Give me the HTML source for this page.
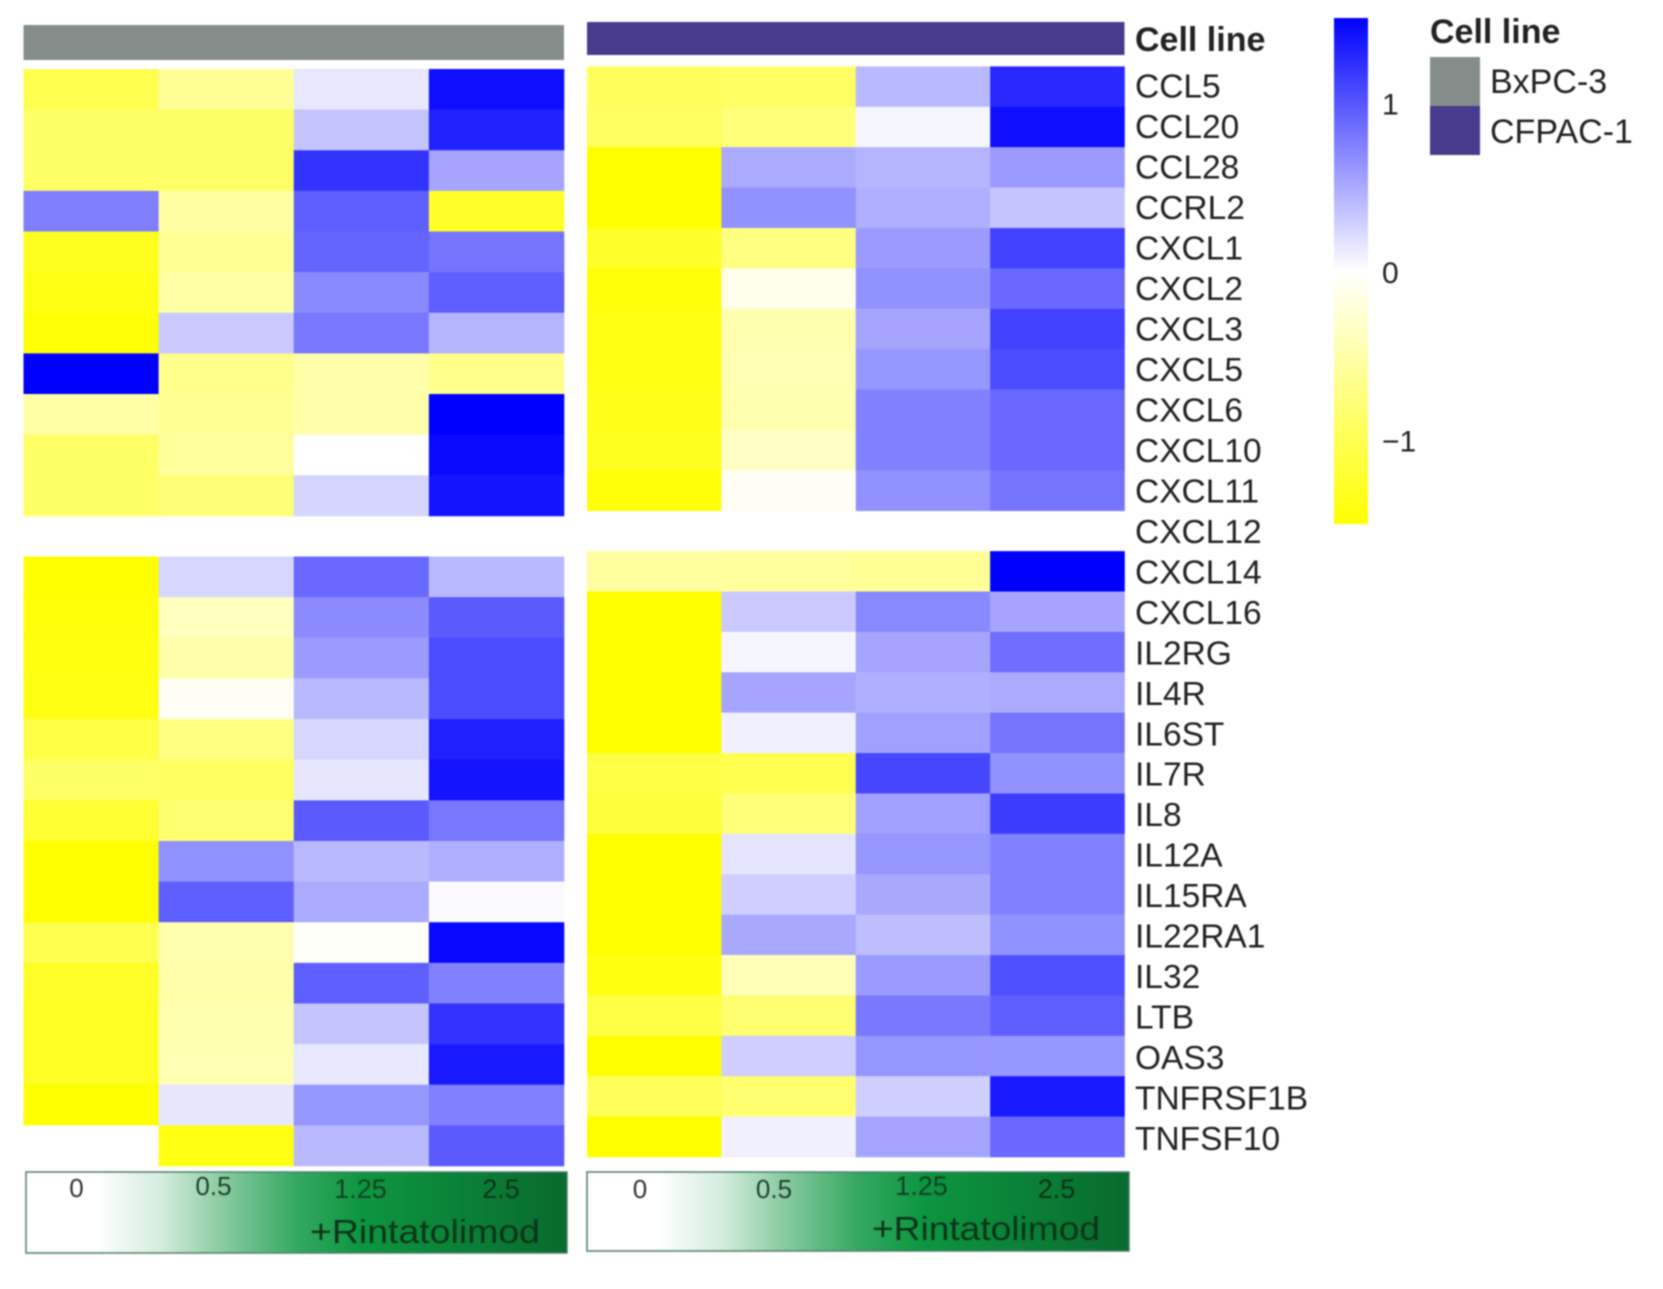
<!DOCTYPE html>
<html lang="en">
<head>
<meta charset="utf-8">
<title>Cytokine expression heatmap</title>
<style>
  html, body { margin: 0; padding: 0; background: #fff; }
  body { width: 1663px; height: 1289px; overflow: hidden; }
  svg { display: block; filter: blur(0.8px); font-family: "Liberation Sans", sans-serif; }
</style>
</head>
<body>
<svg id="chart" xmlns="http://www.w3.org/2000/svg" width="1663" height="1289" viewBox="0 0 1663 1289">
  <defs>
    <linearGradient id="dose-gradient" x1="0" y1="0" x2="1" y2="0">
      <stop offset="0.13" stop-color="#ffffff"/>
      <stop offset="0.25" stop-color="#d4ecdd"/>
      <stop offset="0.35" stop-color="#90cfa6"/>
      <stop offset="0.5" stop-color="#35a862"/>
      <stop offset="0.62" stop-color="#0c9640"/>
      <stop offset="1" stop-color="#086a2e"/>
    </linearGradient>
    <linearGradient id="colorbar-gradient" x1="0" y1="1" x2="0" y2="0">
      <stop offset="0" stop-color="#ffff00"/>
      <stop offset="0.5" stop-color="#ffffff"/>
      <stop offset="1" stop-color="#0000ff"/>
    </linearGradient>
  </defs>

  <rect x="23.5" y="25" width="540.5" height="35" fill="#858d8b"/>
  <rect x="587" y="22" width="537.5" height="33" fill="#483a8d"/>
  <text x="1135" y="51" font-size="34" font-weight="bold" fill="#222">Cell line</text>

  <g id="left-cells"></g>
  <g id="right-cells"></g>
  <g id="gene-labels"></g>

  <g>
    <rect x="26" y="1172" width="541" height="81" fill="url(#dose-gradient)" stroke="#4f7f68" stroke-width="1.5"/>
    <text x="76.5" y="1197" font-size="26" text-anchor="middle" fill="#333">0</text>
    <text x="213.5" y="1195" font-size="26" text-anchor="middle" fill="#24402f">0.5</text>
    <text x="360.5" y="1198" font-size="27" text-anchor="middle" fill="#143f24">1.25</text>
    <text x="501" y="1198" font-size="27" text-anchor="middle" fill="#0e3219">2.5</text>
    <text x="310" y="1243" font-size="33" textLength="230" lengthAdjust="spacingAndGlyphs" fill="#0a3519">+Rintatolimod</text>
  </g>
  <g>
    <rect x="587" y="1172" width="542" height="79" fill="url(#dose-gradient)" stroke="#4f7f68" stroke-width="1.5"/>
    <text x="640" y="1198" font-size="26" text-anchor="middle" fill="#333">0</text>
    <text x="774" y="1198" font-size="26" text-anchor="middle" fill="#24402f">0.5</text>
    <text x="921.5" y="1195" font-size="27" text-anchor="middle" fill="#143f24">1.25</text>
    <text x="1056.5" y="1198" font-size="27" text-anchor="middle" fill="#0e3219">2.5</text>
    <text x="872" y="1240" font-size="33" textLength="228" lengthAdjust="spacingAndGlyphs" fill="#0a3519">+Rintatolimod</text>
  </g>

  <g>
    <rect x="1334" y="18" width="34" height="506" fill="url(#colorbar-gradient)"/>
    <g id="scale-ticks"></g>
  </g>

  <g>
    <text x="1430" y="43" font-size="34" font-weight="bold" fill="#222">Cell line</text>
    <rect x="1430" y="57" width="50" height="49" fill="#858d8b"/>
    <rect x="1430" y="106" width="50" height="49" fill="#483a8d"/>
    <text x="1490" y="93" font-size="34" fill="#222">BxPC-3</text>
    <text x="1490" y="143" font-size="34" fill="#222">CFPAC-1</text>
  </g>
</svg>

<script>
const genes = ["CCL5","CCL20","CCL28","CCRL2","CXCL1","CXCL2","CXCL3","CXCL5","CXCL6","CXCL10","CXCL11","CXCL12","CXCL14","CXCL16","IL2RG","IL4R","IL6ST","IL7R","IL8","IL12A","IL15RA","IL22RA1","IL32","LTB","OAS3","TNFRSF1B","TNFSF10"];
const doses = ["0","0.5","1.25","2.5"];
const scaleTicks = [1, 0, -1];
const scaleTickLabels = ["1", "0", "\u22121"];
const bxpc3Values = [
  [-1.03,-0.62,0.14,1.41],
  [-0.90,-0.90,0.35,1.30],
  [-0.90,-0.90,1.20,0.53],
  [0.76,-0.55,0.94,-1.27],
  [-1.32,-0.62,0.91,0.82],
  [-1.38,-0.53,0.70,0.94],
  [-1.47,0.32,0.80,0.44],
  [1.50,-0.68,-0.50,-0.68],
  [-0.53,-0.62,-0.50,1.50],
  [-0.90,-0.59,0.00,1.44],
  [-0.90,-0.80,0.25,1.38],
  [null,null,null,null],
  [-1.50,0.24,0.88,0.41],
  [-1.44,-0.38,0.68,0.97],
  [-1.41,-0.50,0.59,1.06],
  [-1.38,-0.06,0.41,1.06],
  [-1.09,-0.74,0.24,1.32],
  [-0.90,-0.94,0.15,1.38],
  [-1.20,-0.85,0.97,0.80],
  [-1.50,0.65,0.41,0.47],
  [-1.50,0.94,0.50,0.03],
  [-1.03,-0.47,-0.03,1.45],
  [-1.27,-0.50,0.94,0.74],
  [-1.30,-0.47,0.35,1.20],
  [-1.30,-0.44,0.14,1.35],
  [-1.50,0.15,0.62,0.74],
  [0.00,-1.38,0.41,0.97]
];
const cfpac1Values = [
  [-0.97,-0.91,0.41,1.26],
  [-0.94,-0.79,0.06,1.41],
  [-1.50,0.50,0.44,0.59],
  [-1.50,0.65,0.47,0.35],
  [-1.26,-0.74,0.59,1.12],
  [-1.44,-0.12,0.65,0.88],
  [-1.38,-0.47,0.53,1.12],
  [-1.38,-0.44,0.62,1.06],
  [-1.35,-0.47,0.74,0.88],
  [-1.32,-0.35,0.74,0.88],
  [-1.44,-0.06,0.65,0.82],
  [null,null,null,null],
  [-0.56,-0.59,-0.62,1.50],
  [-1.50,0.32,0.70,0.53],
  [-1.50,0.06,0.53,0.85],
  [-1.50,0.53,0.47,0.50],
  [-1.50,0.09,0.56,0.82],
  [-1.09,-1.03,1.09,0.65],
  [-1.15,-0.79,0.56,1.15],
  [-1.50,0.16,0.62,0.74],
  [-1.50,0.28,0.51,0.74],
  [-1.50,0.51,0.38,0.65],
  [-1.41,-0.41,0.59,1.03],
  [-1.09,-0.85,0.79,0.94],
  [-1.50,0.29,0.62,0.62],
  [-0.97,-0.85,0.29,1.35],
  [-1.50,0.09,0.53,0.88]
];

const SVG_NS = "http://www.w3.org/2000/svg";
const scaleMax = 1.5;

function colorFor(v) {
  const t = Math.min(1, Math.abs(v) / scaleMax);
  const fade = Math.round(255 * (1 - t));
  return v >= 0 ? `rgb(${fade},${fade},255)` : `rgb(255,255,${fade})`;
}
function bandScale(start, end, count) {
  const step = (end - start) / count;
  return { step, at: i => start + i * step };
}
function drawPanel(groupId, values, x, y, prefix) {
  const group = document.getElementById(groupId);
  values.forEach((row, r) => {
    row.forEach((v, c) => {
      if (v === null) return;
      const cell = document.createElementNS(SVG_NS, "rect");
      
      
      cell.setAttribute("x", x.at(c));
      cell.setAttribute("y", y.at(r));
      cell.setAttribute("width", x.step + 0.3);
      cell.setAttribute("height", y.step + 0.3);
      cell.setAttribute("fill", colorFor(v));
      const tip = document.createElementNS(SVG_NS, "title");
      tip.textContent = `${prefix} ${genes[r]} ${doses[c]}: ${v}`;
      cell.appendChild(tip);
      group.appendChild(cell);
    });
  });
}

drawPanel("left-cells", bxpc3Values, bandScale(23.5, 564, doses.length), bandScale(69, 1166, genes.length), "BxPC-3");
drawPanel("right-cells", cfpac1Values, bandScale(587, 1124.5, doses.length), bandScale(66.4, 1157, genes.length), "CFPAC-1");

const labelY = bandScale(66, 1158.7, genes.length);
const labelGroup = document.getElementById("gene-labels");
genes.forEach((name, i) => {
  const label = document.createElementNS(SVG_NS, "text");
  
  
  label.setAttribute("x", 1135);
  label.setAttribute("y", labelY.at(i) + labelY.step / 2 + 11.5);
  label.setAttribute("font-size", 33.5);
  label.setAttribute("fill", "#222");
  label.textContent = name;
  labelGroup.appendChild(label);
});

const scaleY = v => 272 - v * 168.5;
const tickGroup = document.getElementById("scale-ticks");
scaleTicks.forEach((v, i) => {
  const tick = document.createElementNS(SVG_NS, "text");
  
  
  tick.setAttribute("x", v < 0 ? 1382 : 1382);
  tick.setAttribute("y", scaleY(v) + 11);
  tick.setAttribute("font-size", 30);
  tick.setAttribute("fill", "#222");
  tick.textContent = scaleTickLabels[i];
  tickGroup.appendChild(tick);
});
</script>
</body>
</html>
